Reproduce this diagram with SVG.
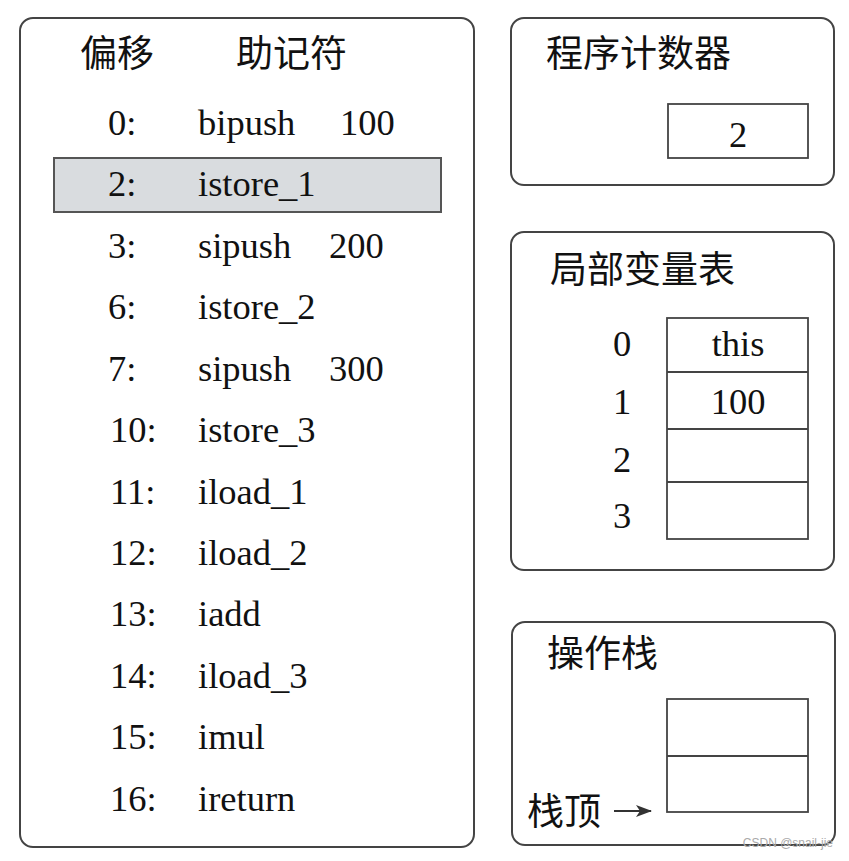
<svg xmlns="http://www.w3.org/2000/svg" width="849" height="861" viewBox="0 0 849 861">
<style>
.panel{fill:#fff;stroke:#444;stroke-width:2}
.cell{fill:#fff;stroke:#444;stroke-width:1.8}
.t{font-family:'Liberation Serif','Times New Roman',serif;font-size:36.5px;fill:#111}
.cjk{font-family:'Noto Sans CJK SC','Noto Sans CJK JP',serif;font-size:37px;fill:#111}
.mid{text-anchor:middle}
</style>
<defs>
<marker id="arr" markerWidth="16" markerHeight="12" refX="15" refY="6" orient="auto" markerUnits="userSpaceOnUse">
<path d="M0,0 L16,6 L0,12 L4,6 Z" fill="#333"/>
</marker>
</defs>
<rect width="849" height="861" fill="#fff"/>
<g id="bytecode">
<rect class="panel" x="20" y="18" width="454" height="829" rx="13"/>
<text class="cjk" x="80" y="67">偏移</text>
<text class="cjk" x="236" y="67">助记符</text>
<rect x="54" y="158" width="387" height="54" fill="#d9dcdf" stroke="#555" stroke-width="2"/>
<g class="t">
<text x="108" y="135">0:</text><text x="198" y="135">bipush</text><text x="340" y="135">100</text>
<text x="108" y="196">2:</text><text x="198" y="196">istore_1</text>
<text x="108" y="258">3:</text><text x="198" y="258">sipush</text><text x="329" y="258">200</text>
<text x="108" y="319">6:</text><text x="198" y="319">istore_2</text>
<text x="108" y="381">7:</text><text x="198" y="381">sipush</text><text x="329" y="381">300</text>
<text x="110" y="442">10:</text><text x="198" y="442">istore_3</text>
<text x="110" y="504">11:</text><text x="198" y="504">iload_1</text>
<text x="110" y="565">12:</text><text x="198" y="565">iload_2</text>
<text x="110" y="626">13:</text><text x="198" y="626">iadd</text>
<text x="110" y="688">14:</text><text x="198" y="688">iload_3</text>
<text x="110" y="749">15:</text><text x="198" y="749">imul</text>
<text x="110" y="811">16:</text><text x="198" y="811">ireturn</text>
</g>
</g>
<g id="pc">
<rect class="panel" x="511" y="18" width="323" height="167" rx="13"/>
<text class="cjk" x="546" y="67">程序计数器</text>
<rect class="cell" x="668" y="104" width="140" height="54"/>
<text class="t mid" x="738" y="147">2</text>
</g>
<g id="locals">
<rect class="panel" x="511" y="232" width="323" height="338" rx="13"/>
<text class="cjk" x="550" y="283">局部变量表</text>
<rect class="cell" x="667" y="318" width="141" height="221"/>
<line class="cell" x1="667" y1="372" x2="808" y2="372"/>
<line class="cell" x1="667" y1="429" x2="808" y2="429"/>
<line class="cell" x1="667" y1="482" x2="808" y2="482"/>
<g class="t mid">
<text x="622" y="356">0</text><text x="738" y="356">this</text>
<text x="622" y="414">1</text><text x="738" y="414">100</text>
<text x="622" y="472">2</text>
<text x="622" y="528">3</text>
</g>
</g>
<g id="stack">
<rect class="panel" x="512" y="622" width="323" height="223" rx="13"/>
<text class="cjk" x="547" y="667">操作栈</text>
<rect class="cell" x="667" y="699" width="141" height="113"/>
<line class="cell" x1="667" y1="756" x2="808" y2="756"/>
<text class="cjk" x="527" y="825">栈顶</text>
</g>
<g id="connectors">
<line x1="614" y1="811" x2="651" y2="811" stroke="#333" stroke-width="2" marker-end="url(#arr)"/>
</g>
<text x="833" y="847" text-anchor="end" font-family="Liberation Sans, sans-serif" font-size="12" fill="#aaa">CSDN @snail-jie</text>
</svg>
